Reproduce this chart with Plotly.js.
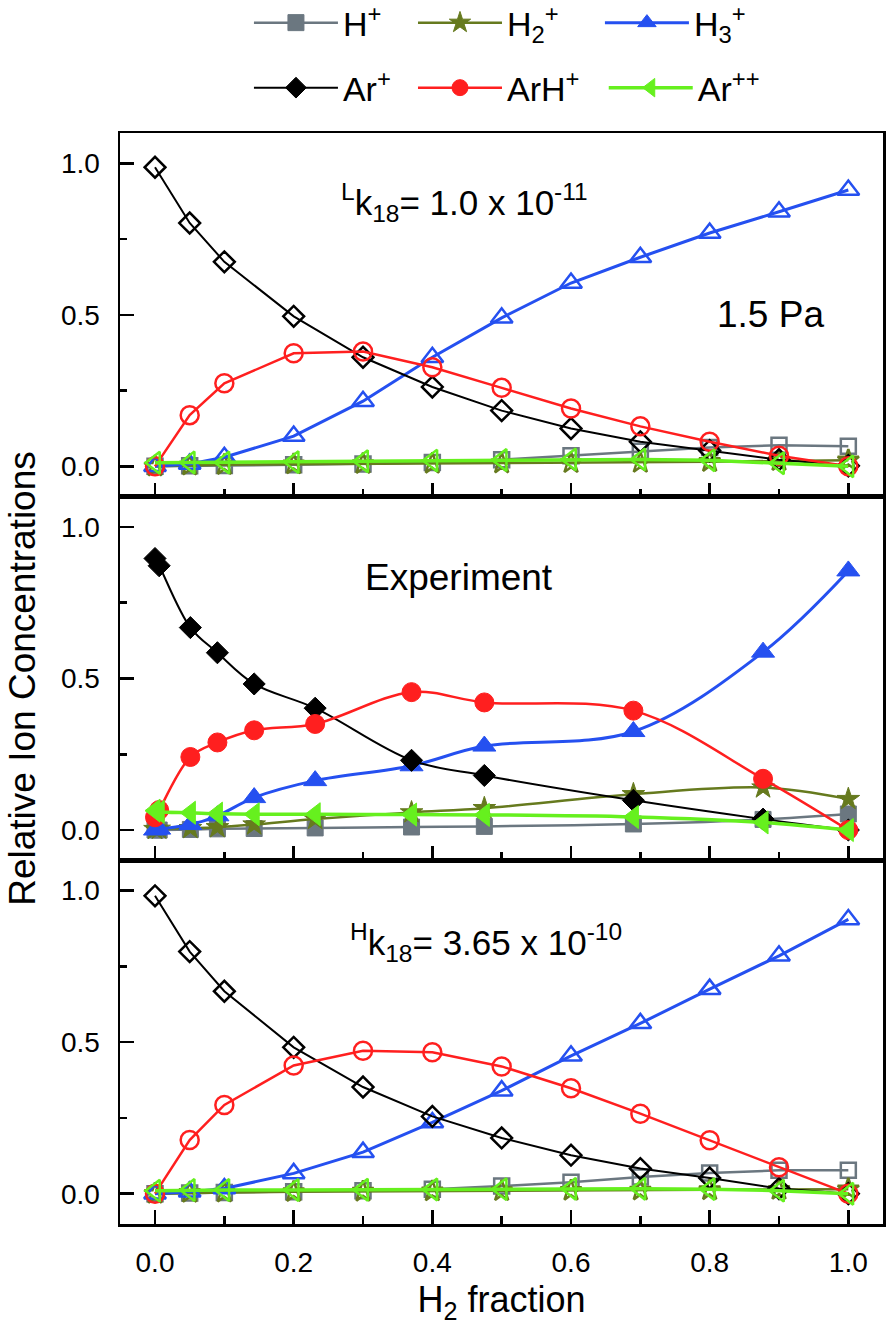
<!DOCTYPE html>
<html>
<head>
<meta charset="utf-8">
<script src="https://cdn.plot.ly/plotly-3.0.1.min.js"></script>
<style>html,body{margin:0;padding:0;background:#fff;}#chart{width:891px;height:1332px;}</style>
</head>
<body>
<div id="chart"></div>
<script>
// ---------- data ----------
const seriesNames = ['H<sup>+</sup>', 'H<sub>2</sub><sup>+</sup>', 'H<sub>3</sub><sup>+</sup>', 'Ar<sup>+</sup>', 'ArH<sup>+</sup>', 'Ar<sup>++</sup>'];

// simulation, low rate constant (top panel)
const xSim = [0, 0.05, 0.1, 0.2, 0.3, 0.4, 0.5, 0.6, 0.7, 0.8, 0.9, 1.0];
const lowH1   = [0, 0.002, 0.003, 0.005, 0.008, 0.013, 0.022, 0.035, 0.05, 0.062, 0.07, 0.066];
const lowH2   = [0, 0.003, 0.005, 0.007, 0.008, 0.009, 0.01, 0.011, 0.012, 0.015, 0.018, 0.02];
const lowH3   = [0, 0.008, 0.03, 0.10, 0.215, 0.36, 0.49, 0.605, 0.69, 0.77, 0.84, 0.912];
const lowAr   = [0.987, 0.803, 0.675, 0.495, 0.36, 0.262, 0.184, 0.125, 0.081, 0.052, 0.022, 0.002];
const lowArH  = [0, 0.169, 0.274, 0.373, 0.379, 0.327, 0.259, 0.191, 0.132, 0.081, 0.035, 0];
const lowAr2  = [0.012, 0.013, 0.013, 0.014, 0.017, 0.019, 0.021, 0.023, 0.023, 0.02, 0.01, 0];

// experiment (middle panel)
const xExp = [0, 0.006, 0.051, 0.09, 0.143, 0.231, 0.37, 0.475, 0.69, 0.877, 1.0];
const expH1  = [0, 0, 0.002, 0.004, 0.005, 0.007, 0.01, 0.012, 0.02, 0.035, 0.053];
const expH2  = [0.003, 0.004, 0.006, 0.009, 0.018, 0.036, 0.058, 0.072, 0.118, 0.14, 0.102];
const expH3  = [0, 0.003, 0.018, 0.047, 0.107, 0.163, 0.212, 0.277, 0.325, 0.587, 0.855];
const expAr  = [0.896, 0.872, 0.668, 0.585, 0.482, 0.402, 0.23, 0.18, 0.098, 0.036, 0];
const expArH = [0.042, 0.066, 0.241, 0.289, 0.329, 0.35, 0.455, 0.421, 0.394, 0.169, 0];
const expAr2 = [0.064, 0.06, 0.057, 0.054, 0.052, 0.052, 0.051, 0.05, 0.043, 0.025, 0];

// simulation, high rate constant (bottom panel)
const highH1  = [0, 0.002, 0.004, 0.006, 0.01, 0.015, 0.025, 0.038, 0.055, 0.068, 0.077, 0.077];
const highH2  = [0, 0.003, 0.004, 0.006, 0.007, 0.008, 0.009, 0.01, 0.011, 0.012, 0.013, 0.015];
const highH3  = [0, 0.006, 0.017, 0.067, 0.137, 0.235, 0.34, 0.455, 0.562, 0.675, 0.785, 0.905];
const highAr  = [0.983, 0.799, 0.668, 0.483, 0.352, 0.255, 0.184, 0.127, 0.083, 0.052, 0.017, 0];
const highArH = [0, 0.177, 0.293, 0.423, 0.472, 0.467, 0.42, 0.348, 0.264, 0.176, 0.087, 0];
const highAr2 = [0.01, 0.012, 0.012, 0.012, 0.013, 0.014, 0.015, 0.016, 0.016, 0.015, 0.01, 0];

const xTickVals = [0, 0.2, 0.4, 0.6, 0.8, 1.0];
const yTickVals = [0, 0.5, 1.0];

// ---------- styles ----------
const colors  = ['#6b7780', '#667a1e', '#2550f0', '#000000', '#ff1f1f', '#66f01e'];
const symbols = ['square', 'star', 'triangle-up', 'diamond', 'circle', 'triangle-left'];
const sizesOpen   = [15, 16, 19, 16, 18, 19];
const sizesFilled = [16, 17, 20, 17, 19, 20];
const lineW   = [2.5, 2.5, 3, 2, 2.5, 3.5];
const FONT = 'Liberation Sans, Arial, Helvetica, sans-serif';

const traces = [];
function addPanel(xs, ys, xa, ya, open, spline) {
  ys.forEach((y, i) => {
    const t = {
      x: xs, y: y, xaxis: xa, yaxis: ya, type: 'scatter', mode: 'lines+markers',
      name: seriesNames[i],
      line: {color: colors[i], width: lineW[i], shape: spline ? 'spline' : 'linear', smoothing: 1},
      marker: {symbol: symbols[i] + (open ? '-open' : ''), size: open ? sizesOpen[i] : sizesFilled[i],
               color: colors[i], line: {color: colors[i], width: open ? 2.5 : 1}},
      showlegend: !open,
      hoverinfo: 'x+y'
    };
    if (!open) t.legend = i === 0 ? 'legend' : 'legend' + (i + 1);
    traces.push(t);
  });
}
addPanel(xSim, [lowH1, lowH2, lowH3, lowAr, lowArH, lowAr2], 'x3', 'y3', true, false);
addPanel(xExp, [expH1, expH2, expH3, expAr, expArH, expAr2], 'x2', 'y2', false, true);
addPanel(xSim, [highH1, highH2, highH3, highAr, highArH, highAr2], 'x', 'y', true, false);

function xAxis(anchor, labels) {
  return {
    anchor: anchor, domain: [0, 1], range: [-0.0505, 1.05],
    tickvals: xTickVals, ticks: 'inside', ticklen: 14, tickwidth: 2.5, tickcolor: '#000',
    minor: {dtick: 0.1, tick0: 0, ticks: 'inside', ticklen: 8, tickwidth: 2.5, tickcolor: '#000'},
    showline: true, linewidth: 2.5, linecolor: '#000', mirror: true,
    showgrid: false, zeroline: false, tickformat: '.1f',
    showticklabels: labels, ticklabelstandoff: 12,
    tickfont: {family: FONT, size: 28, color: '#000'}
  };
}
function yAxis(anchor, domain) {
  return {
    anchor: anchor, domain: domain, range: [-0.1, 1.1],
    tickvals: yTickVals, ticks: 'inside', ticklen: 14, tickwidth: 2.5, tickcolor: '#000',
    minor: {dtick: 0.25, tick0: 0, ticks: 'inside', ticklen: 7, tickwidth: 2.5, tickcolor: '#000'},
    showline: true, linewidth: 2.5, linecolor: '#000', mirror: true,
    showgrid: false, zeroline: false, tickformat: '.1f', ticklabelstandoff: 12,
    tickfont: {family: FONT, size: 28, color: '#000'}
  };
}

const xa = xAxis('y', true);
xa.title = {text: 'H<sub>2</sub> fraction', font: {family: FONT, size: 36, color: '#000'}, standoff: 10};
const ya2 = yAxis('x2', [1/3, 2/3]);
ya2.title = {text: 'Relative Ion Concentrations', font: {family: FONT, size: 37, color: '#000'}, standoff: 14};

function legendAt(x, y) {
  return {x: x, y: y, xanchor: 'left', yanchor: 'middle', orientation: 'h', itemwidth: 84,
          bgcolor: 'rgba(0,0,0,0)', borderwidth: 0,
          font: {family: FONT, size: 34, color: '#000'}};
}

const annFont = {family: FONT, size: 35, color: '#000'};
const annFontBig = {family: FONT, size: 37, color: '#000'};
const layout = {
  width: 891, height: 1332,
  margin: {l: 120, r: 8, t: 133, b: 108, autoexpand: false},
  paper_bgcolor: '#fff', plot_bgcolor: '#fff',
  font: {family: FONT, color: '#000'},
  xaxis: xa, xaxis2: xAxis('y2', false), xaxis3: xAxis('y3', false),
  yaxis: yAxis('x', [0, 1/3]), yaxis2: ya2, yaxis3: yAxis('x3', [2/3, 1]),
  legend: legendAt(0.169, 1.1008),
  legend2: legendAt(0.384, 1.1008),
  legend3: legendAt(0.629, 1.1008),
  legend4: legendAt(0.169, 1.0412),
  legend5: legendAt(0.384, 1.0412),
  legend6: legendAt(0.634, 1.0412),
  annotations: [
    {xref: 'paper', yref: 'paper', x: 0.451, y: 0.936, xanchor: 'center', yanchor: 'middle', showarrow: false,
     text: '<sup>L</sup>k<sub>18</sub>= 1.0 x 10<sup>-11</sup>', font: annFont},
    {xref: 'paper', yref: 'paper', x: 0.852, y: 0.834, xanchor: 'center', yanchor: 'middle', showarrow: false,
     text: '1.5 Pa', font: annFontBig},
    {xref: 'paper', yref: 'paper', x: 0.444, y: 0.593, xanchor: 'center', yanchor: 'middle', showarrow: false,
     text: 'Experiment', font: annFontBig},
    {xref: 'paper', yref: 'paper', x: 0.48, y: 0.258, xanchor: 'center', yanchor: 'middle', showarrow: false,
     text: '<sup>H</sup>k<sub>18</sub>= 3.65 x 10<sup>-10</sup>', font: annFont}
  ]
};

Plotly.newPlot('chart', traces, layout, {displayModeBar: false, staticPlot: true});
</script>
</body>
</html>
